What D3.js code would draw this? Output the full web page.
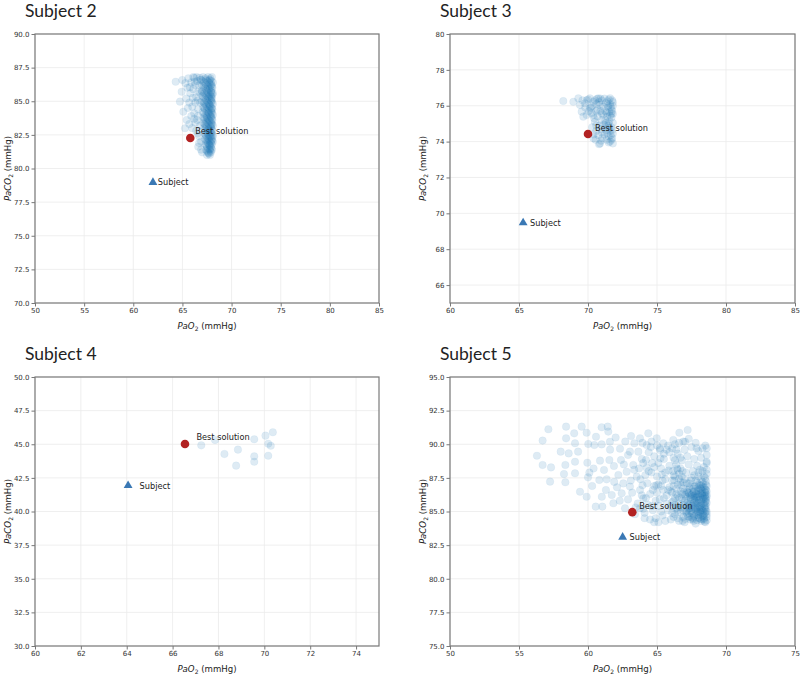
<!DOCTYPE html>
<html><head><meta charset="utf-8">
<script src="https://cdn.jsdelivr.net/npm/d3@7/dist/d3.min.js"></script>
<style>body{margin:0;background:#fff}svg{display:block}</style>
</head><body>
<svg id="c" width="800" height="678"></svg>
<script>
// ---------------- data ----------------
const subjects = ["Subject 2", "Subject 3", "Subject 4", "Subject 5"];
const xDomains = [[50, 85], [60, 85], [60, 75], [50, 75]];
const yDomains = [[70, 90], [65, 80], [30, 50], [75, 95]];
const xTicks = [[50,55,60,65,70,75,80,85],[60,65,70,75,80,85],[60,62,64,66,68,70,72,74],[50,55,60,65,70,75]];
const yTicks = [[70,72.5,75,77.5,80,82.5,85,87.5,90],[66,68,70,72,74,76,78,80],[30,32.5,35,37.5,40,42.5,45,47.5,50],[75,77.5,80,82.5,85,87.5,90,92.5,95]];
const yTickLabels = [["70.0","72.5","75.0","77.5","80.0","82.5","85.0","87.5","90.0"],["66","68","70","72","74","76","78","80"],["30.0","32.5","35.0","37.5","40.0","42.5","45.0","47.5","50.0"],["75.0","77.5","80.0","82.5","85.0","87.5","90.0","92.5","95.0"]];
const bestPoints = [[65.8, 82.27], [70.0, 74.42], [66.54, 45.02], [63.21, 84.95]];
const subjectPoints = [[62.0, 79.0], [65.3, 69.5], [64.06, 41.97], [62.51, 83.13]];
const xLabel = ["PaO", "2", " (mmHg)"];
const yLabel = ["PaCO", "2", " (mmHg)"];
const bestText = "Best solution";
const subjectText = "Subject";

const s2Cloud = [
[67.1,86.8],[67.6,86.8],[68.0,86.8],[66.9,86.6],[67.4,86.6],[67.8,86.6],[67.2,86.4],[67.7,86.4],[68.1,86.4],
[67.0,86.2],[67.5,86.2],[67.9,86.2],[67.3,86.0],[67.8,86.0],[68.05,86.0],[66.95,85.8],[67.45,85.8],[67.95,85.8],
[67.2,85.6],[67.65,85.6],[68.1,85.6],[67.05,85.4],[67.5,85.4],[67.9,85.4],[67.3,85.2],[67.75,85.2],[68.0,85.2],
[67.0,85.0],[67.55,85.0],[67.95,85.0],[67.25,84.8],[67.7,84.8],[68.1,84.8],[67.1,84.6],[67.5,84.6],[67.85,84.6],
[67.3,84.4],[67.75,84.4],[68.05,84.4],[67.05,84.2],[67.6,84.2],[67.95,84.2],[67.35,84.0],[67.8,84.0],[68.1,84.0],
[67.15,83.8],[67.5,83.8],[67.9,83.8],[67.3,83.6],[67.7,83.6],[68.05,83.6],[67.1,83.4],[67.55,83.4],[67.95,83.4],
[67.35,83.2],[67.8,83.2],[68.1,83.2],[67.2,83.0],[67.6,83.0],[67.9,83.0],[67.4,82.8],[67.75,82.8],[68.05,82.8],
[67.25,82.6],[67.6,82.6],[67.95,82.6],[67.45,82.4],[67.85,82.4],[68.1,82.4],[67.3,82.2],[67.65,82.2],[68.0,82.2],
[67.5,82.0],[67.8,82.0],[68.1,82.0],[67.35,81.8],[67.7,81.8],[68.0,81.8],[67.5,81.6],[67.9,81.6],[67.4,81.4],
[67.75,81.4],[68.0,81.4],[67.6,81.2],[67.9,81.2],[67.5,81.0],[67.8,81.0],
[67.35,86.7],[67.85,86.7],[67.05,86.5],[67.55,86.5],[67.95,86.5],[67.35,86.3],[67.8,86.3],[67.15,86.1],[67.6,86.1],
[68.0,86.1],[67.4,85.9],[67.75,85.9],[67.0,85.7],[67.55,85.7],[67.9,85.7],[67.35,85.5],[67.8,85.5],[68.05,85.5],
[67.15,85.3],[67.6,85.3],[67.95,85.3],[67.4,85.1],[67.85,85.1],[67.2,84.9],[67.6,84.9],[68.0,84.9],[67.4,84.7],
[67.8,84.7],[67.2,84.5],[67.65,84.5],[68.0,84.5],[67.45,84.3],[67.9,84.3],[67.2,84.1],[67.65,84.1],[68.0,84.1],
[67.45,83.9],[67.85,83.9],[67.25,83.7],[67.6,83.7],[68.0,83.7],[67.45,83.5],[67.85,83.5],[67.25,83.3],[67.65,83.3],
[68.0,83.3],[67.45,83.1],[67.9,83.1],[67.3,82.9],[67.65,82.9],[68.0,82.9],[67.5,82.7],[67.85,82.7],[67.35,82.5],
[67.7,82.5],[68.05,82.5],[67.55,82.3],[67.9,82.3],[67.4,82.1],[67.7,82.1],[68.0,82.1],[67.6,81.9],[67.9,81.9],
[67.45,81.7],[67.8,81.7],[67.65,81.5],[67.95,81.5],[67.5,81.3],[67.85,81.3],[67.7,81.1],
[67.75,86.55],[67.95,86.25],[67.65,85.95],[67.95,85.65],[67.7,85.35],[67.95,85.05],[67.75,84.75],[67.95,84.45],
[67.7,84.15],[67.95,83.85],[67.75,83.55],[67.95,83.25],[67.7,82.95],[67.95,82.65],[67.75,82.35],[67.95,82.05],
[67.75,81.75],[67.8,81.45],[67.65,81.15],
[64.31,86.45],[64.99,86.58],[64.92,85.71],[64.75,84.97],[65.09,84.22],[65.43,83.61],[65.26,82.99],[66.61,81.62],
[65.6,86.7],[65.9,86.4],[66.2,86.75],[66.5,86.5],[66.7,86.2],[65.5,86.0],[65.8,85.6],[66.1,85.9],[66.4,85.3],
[66.6,85.7],[65.7,84.9],[66.0,84.6],[66.3,84.9],[66.6,84.4],[66.8,84.9],[65.9,83.9],[66.2,84.1],[66.5,83.6],
[66.8,83.2],[66.4,82.8],[66.7,82.4],[66.9,82.0],[66.3,83.4],[66.0,83.0],[65.7,83.3],[66.6,83.9],[66.8,85.6],
[66.85,86.6],[66.3,86.2],[65.4,85.2],[66.1,86.8],[66.7,81.9],[66.9,81.4],[67.0,81.2],[66.45,86.8],[66.75,86.75],
[65.3,86.35],[65.75,86.05],[66.05,85.25],[66.55,85.05],[66.2,83.7],[66.55,82.6],[66.25,86.45],[65.55,84.5]
];

const s3Cloud = [
[68.21,76.26],[68.94,76.22],[69.3,76.41],[69.42,76.04],[69.54,75.67],[69.66,75.39],[69.78,76.13],[69.9,75.48],
[70.14,76.41],[70.14,75.86],[70.39,75.48],[70.39,76.22],[70.75,76.41],[70.87,76.04],[70.99,75.58],[70.39,74.18],
[70.87,73.9],[70.6,74.6],[70.5,75.1],[70.7,75.8],[69.9,76.3],[70.3,74.8],[70.6,76.1],[69.6,76.3],
[71.2,76.4],[71.5,76.35],[71.75,76.3],[71.3,76.15],[71.6,76.1],[71.8,76.0],[71.1,75.95],[71.45,75.9],[71.7,75.8],
[71.25,75.7],[71.55,75.65],[71.8,75.55],[71.1,75.5],[71.4,75.4],[71.7,75.35],[71.25,75.2],[71.55,75.15],[71.8,75.05],
[71.15,74.95],[71.45,74.9],[71.7,74.8],[71.3,74.65],[71.6,74.6],[71.8,74.45],[71.2,74.4],[71.5,74.3],[71.75,74.2],
[71.35,74.1],[71.6,74.0],[71.8,73.9],[71.0,76.3],[70.9,75.7],[71.0,75.2],[70.95,74.7],[71.05,74.2],[71.6,76.42],
[71.4,76.25],[71.65,75.95],[71.35,75.6],[71.6,75.45],[71.75,75.7],[71.5,75.0],[71.75,74.65],[71.4,74.5],[71.65,74.35],
[71.5,73.95],[71.8,76.2],[71.3,75.05],[71.55,74.75],[71.7,74.1],
[70.0,76.35],[70.3,76.0],[70.5,76.3],[70.6,75.7],[70.8,76.2],[70.25,75.6],[70.45,75.3],[70.7,75.4],[70.85,74.9],
[70.6,74.9],[70.4,74.4],[70.75,74.35],[70.95,74.05],[70.55,74.1],[70.8,73.85],[70.2,75.9],[70.9,76.4],[70.05,75.7],
[69.8,75.9],[70.65,76.38],[71.0,74.5],[71.45,76.0],[71.7,75.55],[71.25,74.8]
];

const s4Cloud = [
[67.25,44.92],[67.85,45.32],[68.26,44.28],[68.85,44.6],[68.77,43.41],[69.56,45.37],[69.56,44.1],
[69.56,43.7],[70.05,45.64],[70.37,45.89],[70.17,45.04],[70.28,44.89],[70.17,44.15]
];

const s5Cloud = [
[56.30,89.15],[56.71,90.27],[57.13,91.11],[56.71,88.46],[57.32,88.28],[57.25,87.22],[58.02,89.45],[58.41,91.31],
[58.41,90.44],[58.6,89.32],[58.36,88.46],[58.26,87.79],[58.36,87.17],[59.0,90.81],[59.06,90.07],[59.28,89.45],
[59.06,88.7],[59.06,87.84],[59.54,91.31],[59.9,90.86],[60.02,90.02],[59.95,88.63],[60.1,87.89],[59.42,86.47],
[59.9,86.1],[60.0,87.54],[60.58,90.56],[60.46,89.94],[60.99,89.99],[60.99,91.26],[61.43,91.31],[60.87,88.78],
[61.16,88.09],[60.82,87.34],[60.56,85.36],[61.04,85.36],[61.47,90.94],[61.59,90.19],[61.55,88.83],[61.88,88.38],
[61.3,86.6],[61.72,86.23],[61.35,87.39],[61.84,85.61],[62.32,89.67],[62.39,88.83],[62.2,87.71],[62.56,87.09],
[62.68,85.24],[62.44,86.35],[63.12,90.61],[63.36,90.07],[63.04,89.45],[63.28,88.46],[63.65,89.45],[63.77,90.44],
[64.37,90.81],[64.25,89.94],[64.2,88.83],[63.53,87.59],[62.8,87.96],[63.04,86.85],[63.77,86.6],[64.01,85.98],
[63.77,85.24],[64.98,90.44],[65.22,89.57],[65.46,90.07],[66.18,90.32],[66.62,90.86],[67.22,91.06],[67.03,90.19],
[67.87,89.7],[68.6,89.7],[68.6,88.7],
[63.6,85.6],[63.9,86.2],[64.1,84.9],[64.3,87.1],[64.4,88.0],[64.6,85.4],[64.7,86.6],[64.8,89.1],[64.9,84.5],
[65.0,87.6],[65.1,88.6],[65.2,85.9],[65.3,86.9],[65.4,84.7],[65.5,89.3],[65.6,87.9],[65.7,86.2],[65.8,85.1],
[65.9,88.4],[66.0,84.4],[66.1,87.3],[66.2,89.0],[66.3,86.0],[66.4,85.3],[66.5,88.1],[63.8,87.4],[64.0,88.6],
[64.2,86.0],[64.5,84.4],[64.9,85.8],[65.0,86.4],[65.3,88.2],[65.6,84.3],[65.9,86.8],[66.2,87.7],[66.4,89.6],
[64.6,87.9],[65.2,89.7],[65.7,85.6],[66.0,86.5],[63.4,84.8],[63.7,88.2],[64.4,89.4],[65.1,84.2],[65.8,89.9],
[66.3,84.8],[64.0,85.2],[64.8,86.9],[65.4,87.3],[66.1,85.7],
[66.6,84.3],[67.0,84.2],[67.4,84.4],[67.8,84.1],[68.2,84.3],[68.5,84.2],[66.9,84.6],[67.6,84.5],[68.0,84.7],
[68.4,84.5],[67.2,84.8],[66.7,84.9],[66.5,85.1],[66.8,85.3],[67.1,85.0],[67.3,85.4],[67.5,85.1],[67.7,85.3],
[67.9,85.0],[68.1,85.4],[68.3,85.1],[68.5,85.3],[68.6,85.0],[66.9,85.5],[67.4,85.6],[67.8,85.5],[68.2,85.7],
[68.45,85.55],[67.0,85.8],[67.6,85.9],[68.0,85.2],[68.55,85.8],[66.6,86.0],[66.8,86.3],[67.1,86.1],[67.3,86.4],
[67.5,86.2],[67.7,86.0],[67.9,86.3],[68.1,86.1],[68.3,86.4],[68.5,86.2],[68.6,86.5],[67.2,86.6],[67.6,86.7],
[68.0,86.6],[68.4,86.8],[66.9,86.7],[67.8,86.9],[68.2,86.95],[68.55,87.0],[67.4,86.9],[66.7,87.2],[67.0,87.4],
[67.3,87.1],[67.5,87.5],[67.8,87.3],[68.0,87.6],[68.3,87.2],[68.5,87.5],[68.6,87.8],[66.6,87.8],[67.1,87.9],
[67.6,88.0],[68.1,88.1],[68.4,88.3],[67.9,88.4],[67.3,88.5],[66.8,88.8],[67.2,89.1],[67.7,88.9],[68.2,89.0],
[68.6,89.2],[67.0,89.6],[67.5,89.8],[68.0,89.5],[68.5,89.9],[66.6,90.1],
[67.25,84.65],[67.55,84.85],[67.85,84.75],[68.15,84.95],[68.45,84.85],[68.6,84.6],[67.35,85.25],[67.65,85.65],
[67.95,85.45],[68.25,85.25],[68.55,85.45],[67.45,85.95],[67.75,86.15],[68.05,85.85],[68.35,86.05],[68.6,86.25],
[67.3,86.35],[67.65,86.45],[67.95,86.75],[68.25,86.55],[68.5,86.65],[67.5,84.55],[67.9,84.35],[68.3,84.65],
[68.6,84.35],[67.2,85.65],[68.4,85.95],[67.85,86.05],[68.15,86.35],[68.6,85.65],
[67.3,84.9],[67.6,85.2],[67.9,85.8],[68.2,85.5],[68.5,86.0],[67.4,86.2],[67.7,86.5],[68.0,86.3],[68.3,86.8],
[68.6,86.9],[67.5,85.4],[67.8,84.9],[68.1,85.0],[68.4,84.4],[68.55,85.15],[67.65,84.3],[68.0,84.5],[68.35,84.75],
[67.15,85.35],[67.05,86.25],
[66.2,84.6],[66.5,84.5],[66.3,85.5],[66.6,85.6],[66.4,86.3],[66.7,86.5],[66.2,86.9],[66.5,87.0],[66.3,87.6],
[66.8,87.6],[66.4,88.5],[66.7,88.2],[66.5,89.3],[66.1,89.7],[66.9,90.2],[67.3,90.4],[67.8,90.1],[68.3,89.7],
[68.6,88.6],[66.85,84.3],
[67.05,84.45],[67.35,84.6],[67.7,84.65],[68.05,84.55],[68.4,84.65],[67.15,85.05],[67.45,85.0],[67.8,85.15],
[68.1,85.3],[68.45,85.2],[67.25,85.5],[67.55,85.45],[67.9,85.6],[68.2,85.85],[68.5,85.7],[67.1,85.9],[67.4,86.05],
[67.7,85.85],[68.0,86.05],[68.3,86.2],[68.6,86.1],[67.2,86.45],[67.55,86.3],[67.85,86.5],[68.15,86.7],[68.45,86.45],
[67.35,86.75],[67.7,86.85],[68.05,87.0],[68.35,87.05],[67.15,87.1],[67.45,87.3],[67.9,87.15],[68.2,87.4],[68.55,87.25],
[67.6,84.4],[68.25,84.4],[68.5,84.95],[67.95,84.95],[67.3,85.2],[68.35,85.6],[67.65,86.15],[68.55,86.6],[67.8,86.3],
[68.1,86.9],[68.4,87.6],[67.7,87.7],[68.0,87.9],[68.3,88.0],[68.6,88.1],
[66.1,84.9],[66.35,85.2],[66.65,85.35],[66.9,85.05],[66.2,85.8],[66.5,86.15],[66.8,85.95],[66.1,86.4],[66.4,86.7],
[66.75,86.95],[66.95,86.45],[66.25,87.3],[66.6,87.45],[66.9,87.15],[66.15,88.0],[66.45,88.2],[66.85,88.0],[66.3,88.8],
[66.7,89.0],[66.0,85.4],[65.8,86.6],[65.5,86.0],[65.3,85.0],[65.1,87.0],[64.8,88.3],[65.5,88.9],[65.9,89.4],
[66.3,90.0],[65.0,89.9],[64.6,90.2],
[67.9,85.3],[68.2,85.1],[68.45,85.4],[68.0,85.65],[68.3,85.9],[68.55,85.95],[67.95,86.15],[68.25,86.3],[68.5,86.4],
[68.05,84.85],[68.35,85.0],[68.6,84.8],[67.75,85.7],[68.45,86.15],[68.2,86.65],[68.45,84.25],[68.15,84.45],
[62.9,85.9],[63.2,86.4],[63.45,85.3],[63.1,87.3],[63.35,88.1],[63.9,88.9],[64.15,87.7],[64.5,86.3],[64.35,85.5],
[64.7,85.1],[64.95,86.95],[65.25,88.95],[64.55,89.8],[63.95,90.1],[64.65,88.6],[65.45,86.6],[65.15,85.4],[65.6,87.4],
[65.85,88.05],[65.7,89.6],[62.6,88.5],[62.9,89.2],[62.1,86.8],[61.9,87.2],[62.3,85.8],[61.6,89.6],[60.4,88.2],
[61.0,86.1],[60.3,86.9],[62.0,90.5],[62.7,90.2],[64.1,84.5],[64.8,84.2],[63.95,86.95],[65.35,87.75],[64.25,88.25]
];
const clouds = [s2Cloud, s3Cloud, s4Cloud, s5Cloud];

// ---------------- layout ----------------
const layout = [
  {l: 35, r: 379, t: 34, b: 303, tx: 25},
  {l: 450, r: 795, t: 34, b: 303, tx: 440},
  {l: 35, r: 379, t: 377, b: 646, tx: 25},
  {l: 450, r: 795, t: 377, b: 646, tx: 440}
];
const svg = d3.select("#c");
const tickFont = "DejaVu Sans, sans-serif";
const blue = "#1f77b4";

layout.forEach((L, i) => {
  const x = d3.scaleLinear().domain(xDomains[i]).range([L.l, L.r]);
  const y = d3.scaleLinear().domain(yDomains[i]).range([L.b, L.t]);
  const g = svg.append("g");

  // grid
  g.append("g").selectAll("line").data(xTicks[i]).join("line")
    .attr("x1", d => x(d)).attr("x2", d => x(d)).attr("y1", L.t).attr("y2", L.b)
    .attr("stroke", "#ebebeb").attr("stroke-width", 0.8);
  g.append("g").selectAll("line").data(yTicks[i]).join("line")
    .attr("y1", d => y(d)).attr("y2", d => y(d)).attr("x1", L.l).attr("x2", L.r)
    .attr("stroke", "#ebebeb").attr("stroke-width", 0.8);

  // cloud
  g.append("g").selectAll("circle").data(clouds[i]).join("circle")
    .attr("cx", d => x(d[0])).attr("cy", d => y(d[1])).attr("r", 3.8)
    .attr("fill", blue).attr("fill-opacity", 0.15)
    .attr("stroke", blue).attr("stroke-opacity", 0.08).attr("stroke-width", 0.6);

  // axes
  const xa = d3.axisBottom(x).tickValues(xTicks[i]).tickSize(3.5).tickPadding(2).tickFormat(d3.format("d"));
  const ya = d3.axisLeft(y).tickValues(yTicks[i]).tickSize(3.5).tickPadding(2)
    .tickFormat((d, k) => yTickLabels[i][k]);
  const gx = g.append("g").attr("transform", `translate(0,${L.b})`).call(xa);
  const gy = g.append("g").attr("transform", `translate(${L.l},0)`).call(ya);
  [gx, gy].forEach(a => {
    a.select(".domain").remove();
    a.selectAll(".tick line").attr("stroke", "#555").attr("stroke-width", 0.8);
    a.selectAll(".tick text").attr("fill", "#333").attr("font-size", 7).attr("font-family", tickFont);
  });

  // spines
  g.append("rect").attr("x", L.l).attr("y", L.t).attr("width", L.r - L.l).attr("height", L.b - L.t)
    .attr("fill", "none").attr("stroke", "#7a7a7a").attr("stroke-width", 1.2);

  // markers
  const bp = bestPoints[i], sp = subjectPoints[i];
  g.append("circle").attr("cx", x(bp[0])).attr("cy", y(bp[1])).attr("r", 4.3).attr("fill", "#b22222");
  g.append("path").attr("d", d3.symbol(d3.symbolTriangle, 34)())
    .attr("transform", `translate(${x(sp[0])},${y(sp[1]) + 0.5})`).attr("fill", "#3a78b4");
  g.append("text").attr("x", x(bp[0] + 0.5)).attr("y", y(bp[1]) - 3.5)
    .attr("font-family", tickFont).attr("font-size", 8.2).attr("fill", "#222").text(bestText);
  g.append("text").attr("x", x(sp[0] + 0.5)).attr("y", y(sp[1]) + 3.5)
    .attr("font-family", tickFont).attr("font-size", 8.2).attr("fill", "#222").text(subjectText);

  // axis labels
  const xl = g.append("text").attr("x", (L.l + L.r) / 2).attr("y", L.b + 25.5)
    .attr("text-anchor", "middle").attr("font-family", tickFont).attr("font-size", 8.6).attr("fill", "#222");
  xl.append("tspan").attr("font-style", "italic").text(xLabel[0]);
  xl.append("tspan").attr("font-size", 6).attr("dy", 2).text(xLabel[1]);
  xl.append("tspan").attr("dy", -2).text(xLabel[2]);

  const yl = g.append("text").attr("transform", `translate(${L.l - 24},${(L.t + L.b) / 2}) rotate(-90)`)
    .attr("text-anchor", "middle").attr("font-family", tickFont).attr("font-size", 8.6).attr("fill", "#222");
  yl.append("tspan").attr("font-style", "italic").text(yLabel[0]);
  yl.append("tspan").attr("font-size", 6).attr("dy", 2).text(yLabel[1]);
  yl.append("tspan").attr("dy", -2).text(yLabel[2]);

  // title
  svg.append("text").attr("x", L.tx).attr("y", L.t - 17)
    .attr("font-family", "Lato, sans-serif").attr("font-size", 17.5).attr("fill", "#222").text(subjects[i]);
});
</script>
</body></html>
